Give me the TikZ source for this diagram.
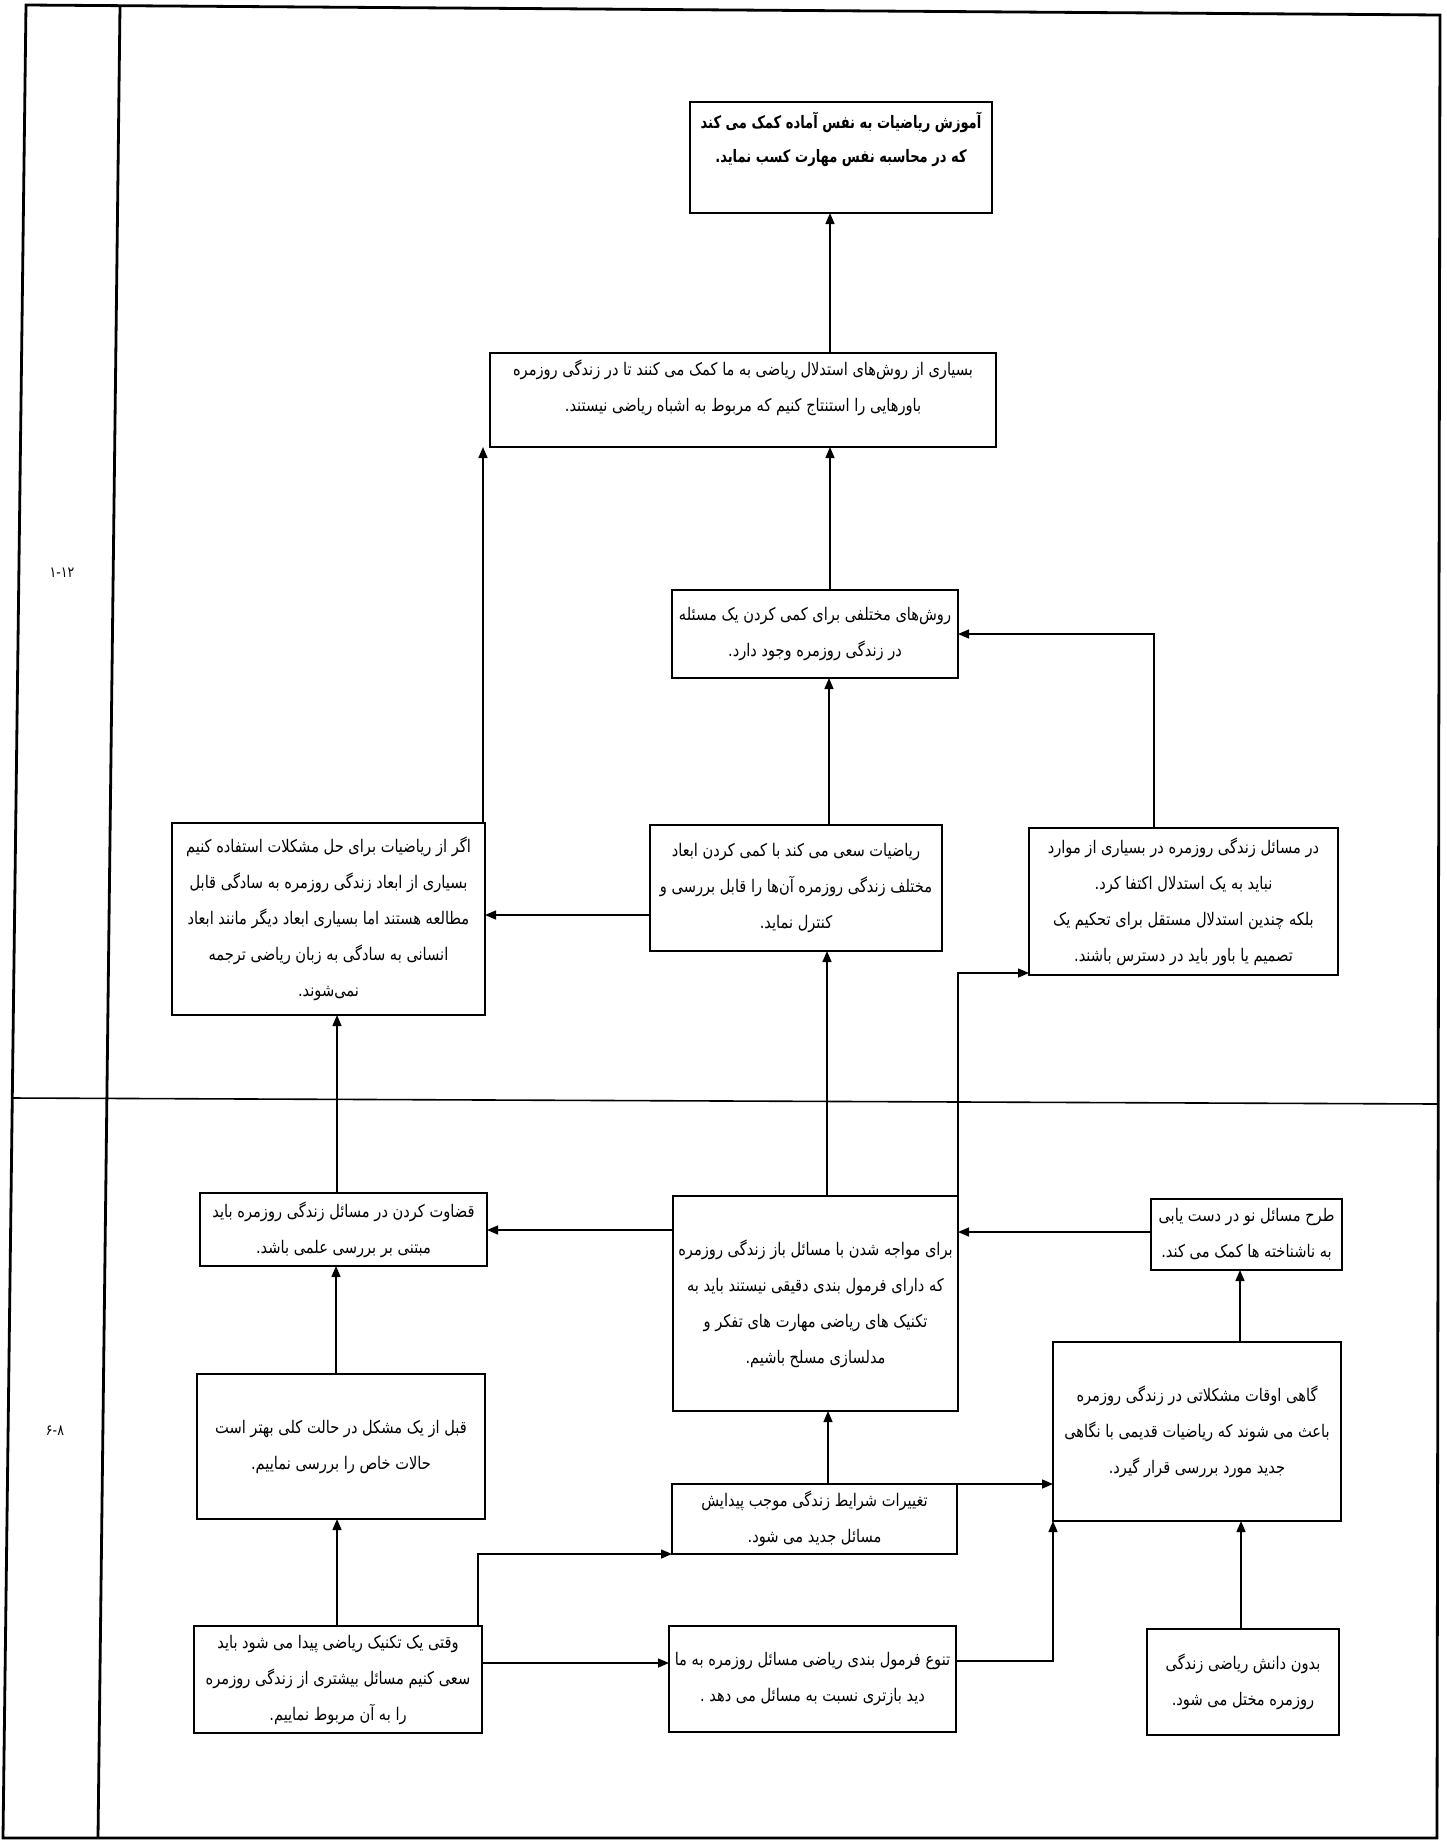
\documentclass[tikz,border=0pt]{standalone}
\usepackage{fontspec}
\usetikzlibrary{arrows.meta,fit}
\TeXXeTstate=1
\newfontfamily\fa[Script=Arabic,FakeStretch=0.84]{DejaVu Sans}
\newfontfamily\fab[Script=Arabic,FakeStretch=0.76]{DejaVu Sans}
\newcommand\rl[1]{\beginR #1\endR}
% box with corners (x1,y1)-(x2,y2) in pixel units and centred text
\newcommand\tbox[6]{%
  \node[box, fit={(#2,#3) (#4,#5)}] (#1) {};
  \node[txt] (#1t) at (#1.center) {#6};}

\begin{document}
\begin{tikzpicture}[x=0.5pt,y=-0.5pt,
  box/.style={draw, line width=1pt, inner sep=0pt, outer sep=0pt},
  txt/.style={font=\fa\fontsize{8.7}{18}\selectfont, align=center, inner sep=0pt},
  txtb/.style={font=\fab\bfseries\fontsize{8.6}{17}\selectfont, align=center, inner sep=0pt},
  arr/.style={line width=0.7pt, -{Triangle[length=5.5pt,width=4.5pt]}},
  rule/.style={line width=0.8pt},
  border/.style={line width=1.4pt},
  lbl/.style={font=\fa\fontsize{7.5}{9}\selectfont, inner sep=0pt},
]
\useasboundingbox (0,0) rectangle (1446,1842);
\fill[white] (0,0) rectangle (1446,1842);

% page frame, level column and the divider between the two levels
\draw[border] (26,5) -- (1440,15) -- (1437,1838) -- (3,1838) -- cycle;
\draw[border] (120,6) -- (98,1838);
\draw[rule] (12,1098) -- (1438,1104);
\node[lbl] (lvlA) at (62,573) {۱-۱۲};
\node[lbl] (lvlB) at (55,1431) {۶-۸};

% column guides for the connectors
\coordinate (c336) at (336,0);
\coordinate (c337) at (337,0);
\coordinate (c478) at (478,0);
\coordinate (c483) at (483,0);
\coordinate (c827) at (827,0);
\coordinate (c828) at (828,0);
\coordinate (c829) at (829,0);
\coordinate (c830) at (830,0);
\coordinate (c1154) at (1154,0);
\coordinate (c1240) at (1240,0);
\coordinate (c1241) at (1241,0);
\coordinate (r915) at (0,915);
\coordinate (r973) at (0,973);
\coordinate (r1230) at (0,1230);
\coordinate (r1232) at (0,1232);
\coordinate (r1661) at (0,1661);
\coordinate (r1663) at (0,1663);

% upper level
\node[box, fit={(690,102) (992,213)}] (A) {};
\node[txtb, yshift=9pt] (At) at (A.center) {%
  \rl{آموزش ریاضیات به نفس آماده کمک می کند}\\
  \rl{که در محاسبه نفس مهارت کسب نماید.}};

\node[box, fit={(490,353) (996,447)}] (B2) {};
\node[txt, yshift=6pt] (B2t) at (B2.center) {%
  \rl{بسیاری از روش‌های استدلال ریاضی به ما کمک می کنند تا در زندگی روزمره}\\
  \rl{باورهایی را استنتاج کنیم که مربوط به اشباه ریاضی نیستند.}};

\tbox{B3}{672}{590}{958}{678}{%
  \rl{روش‌های مختلفی برای کمی کردن یک مسئله}\\
  \rl{در زندگی روزمره وجود دارد.}}

\tbox{L}{172}{823}{485}{1015}{%
  \rl{اگر از ریاضیات برای حل مشکلات استفاده کنیم}\\
  \rl{بسیاری از ابعاد زندگی روزمره به سادگی قابل}\\
  \rl{مطالعه هستند اما بسیاری ابعاد دیگر مانند ابعاد}\\
  \rl{انسانی به سادگی به زبان ریاضی ترجمه}\\
  \rl{نمی‌شوند.}}

\tbox{M}{650}{825}{942}{951}{%
  \rl{ریاضیات سعی می کند با کمی کردن ابعاد}\\
  \rl{مختلف زندگی روزمره آن‌ها را قابل بررسی و}\\
  \rl{کنترل نماید.}}

\tbox{R}{1029}{828}{1338}{975}{%
  \rl{در مسائل زندگی روزمره در بسیاری از موارد}\\
  \rl{نباید به یک استدلال اکتفا کرد.}\\
  \rl{بلکه چندین استدلال مستقل برای تحکیم یک}\\
  \rl{تصمیم یا باور باید در دسترس باشند.}}

% lower level
\tbox{J}{200}{1193}{487}{1266}{%
  \rl{قضاوت کردن در مسائل زندگی روزمره باید}\\
  \rl{مبتنی بر بررسی علمی باشد.}}

\tbox{C}{673}{1196}{958}{1411}{%
  \rl{برای مواجه شدن با مسائل باز زندگی روزمره}\\
  \rl{که دارای فرمول بندی دقیقی نیستند باید به}\\
  \rl{تکنیک های ریاضی مهارت های تفکر و}\\
  \rl{مدلسازی مسلح باشیم.}}

\tbox{T}{1151}{1199}{1342}{1270}{%
  \rl{طرح مسائل نو در دست یابی}\\
  \rl{به ناشناخته ها کمک می کند.}}

\tbox{Q}{197}{1374}{485}{1519}{%
  \rl{قبل از یک مشکل در حالت کلی بهتر است}\\
  \rl{حالات خاص را بررسی نماییم.}}

\tbox{G}{1053}{1342}{1341}{1521}{%
  \rl{گاهی اوقات مشکلاتی در زندگی روزمره}\\
  \rl{باعث می شوند که ریاضیات قدیمی با نگاهی}\\
  \rl{جدید مورد بررسی قرار گیرد.}}

\tbox{K}{672}{1484}{957}{1554}{%
  \rl{تغییرات شرایط زندگی موجب پیدایش}\\
  \rl{مسائل جدید می شود.}}

\tbox{V}{194}{1626}{482}{1733}{%
  \rl{وقتی یک تکنیک ریاضی پیدا می شود باید}\\
  \rl{سعی کنیم مسائل بیشتری از زندگی روزمره}\\
  \rl{را به آن مربوط نماییم.}}

\tbox{N}{669}{1626}{956}{1732}{%
  \rl{تنوع فرمول بندی ریاضی مسائل روزمره به ما}\\
  \rl{دید بازتری نسبت به مسائل می دهد .}}

\tbox{D}{1147}{1629}{1339}{1735}{%
  \rl{بدون دانش ریاضی زندگی}\\
  \rl{روزمره مختل می شود.}}

% connectors
\draw[arr] (B2.north -| c830) -- (A.south -| c830);
\draw[arr] (L.north -| c483) -- (B2.south -| c483);
\draw[arr] (B3.north -| c830) -- (B2.south -| c830);
\draw[arr] (M.north -| c829) -- (B3.south -| c829);
\draw[arr] (R.north -| c1154) |- (B3.east);
\draw[arr] (M.west |- r915) -- (L.east |- r915);
\draw[arr] (C.north -| c827) -- (M.south -| c827);
\draw[arr] (C.north east) |- (R.west |- r973);
\draw[arr] (J.north -| c337) -- (L.south -| c337);
\draw[arr] (C.west |- r1230) -- (J.east |- r1230);
\draw[arr] (T.west |- r1232) -- (C.east |- r1232);
\draw[arr] (G.north -| c1240) -- (T.south -| c1240);
\draw[arr] (Q.north -| c336) -- (J.south -| c336);
\draw[arr] (K.north -| c828) -- (C.south -| c828);
\draw[arr] (K.north east) -- (G.west |- K.north east);
\draw[arr] (V.north -| c337) -- (Q.south -| c337);
\draw[arr] (V.north -| c478) |- (K.south west);
\draw[arr] (V.east |- r1663) -- (N.west |- r1663);
\draw[arr] (N.east |- r1661) -| (G.south west);
\draw[arr] (D.north -| c1241) -- (G.south -| c1241);
\end{tikzpicture}
\end{document}
